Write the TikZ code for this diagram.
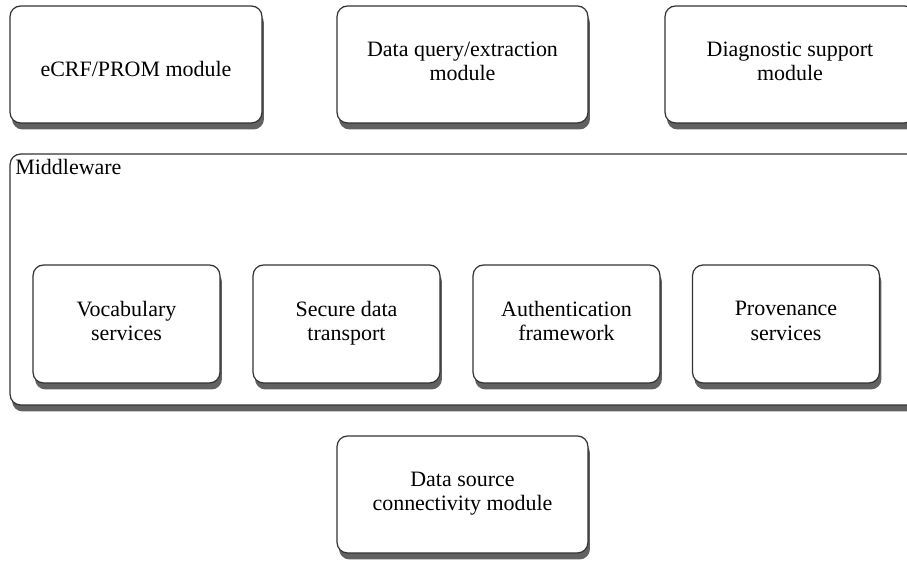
\documentclass[tikz,border=0pt]{standalone}
\usepackage{fontspec}
\setmainfont{Liberation Serif}
\usetikzlibrary{shadows}

\tikzstyle{module}=[draw=black!80, line width=0.7pt, rounded corners=6pt, fill=white,
  inner sep=0pt, align=center, font=\fontsize{12.5}{14}\selectfont,
  execute at begin node={\rule{0pt}{17pt}}, execute at end node={\rule[-3.5pt]{0pt}{3.5pt}},
  drop shadow={shadow xshift=0.04cm, shadow yshift=-0.13cm, opacity=1, fill=black!62}]
\tikzstyle{service}=[module, minimum width=3.74cm, minimum height=2.36cm]
\tikzstyle{title}=[inner sep=0pt, anchor=north west, font=\fontsize{12.5}{14}\selectfont]

\begin{document}
\begin{tikzpicture}[x=0.02cm, y=-0.02cm]
      \useasboundingbox (0,0) rectangle (907,563);
      \clip (0,0) rectangle (907,563);

      % top row
      \node[module, minimum width=5.04cm, minimum height=2.34cm] (ecrf) at (136, 64.5) {eCRF/PROM module};
      \node[module, minimum width=5.02cm, minimum height=2.34cm] (query) at (462.5, 64.5) {Data query/extraction\\module};
      \node[module, minimum width=5.0cm, minimum height=2.34cm] (diag) at (790, 64.5) {Diagnostic support\\module};

      % middleware
      \node[module, minimum width=18.4cm, minimum height=5.02cm] (mw) at (470, 279.5) {};
      \node[title] (mwlabel) at (15, 159) {Middleware};

      \node[service] (vocab) at (126.5, 324) {Vocabulary\\services};
      \node[service] (secure) at (346.5, 324) {Secure data\\transport};
      \node[service] (auth) at (566.5, 324) {Authentication\\framework};
      \node[service] (prov) at (786, 324) {Provenance\\services};

      % bottom
      \node[module, minimum width=5.02cm, minimum height=2.34cm] (source) at (462.5, 494.5) {Data source\\connectivity module};
    \end{tikzpicture}
\end{document}
